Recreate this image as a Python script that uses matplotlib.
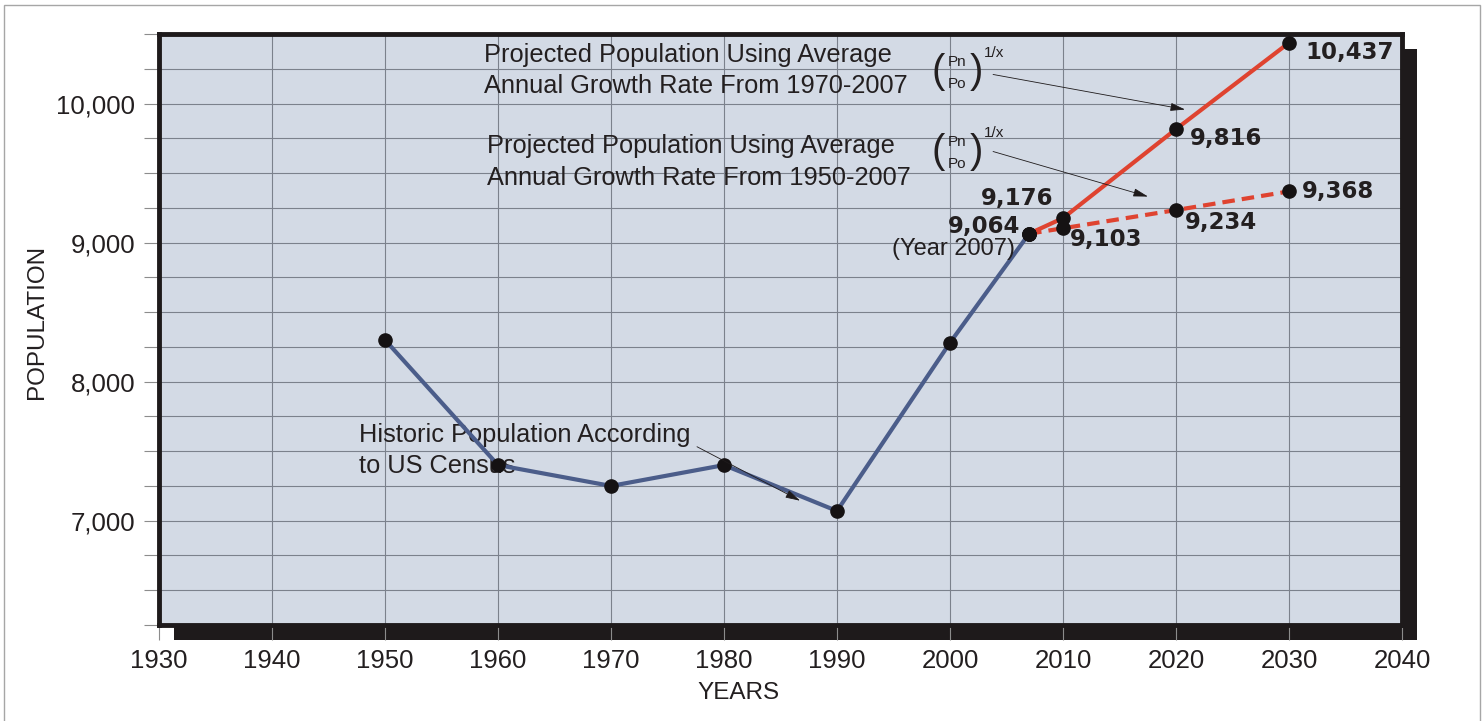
import matplotlib
matplotlib.use("Agg")
import matplotlib.pyplot as plt
import matplotlib.patches as patches
import matplotlib.transforms as mtransforms
from matplotlib.ticker import MultipleLocator, FuncFormatter

plt.rcParams['font.family'] = ['Liberation Sans', 'DejaVu Sans']

# historic census population
hist_years = [1950, 1960, 1970, 1980, 1990, 2000, 2007]
hist_pop = [8300, 7400, 7250, 7400, 7070, 8280, 9064]

# projections from the 2007 base
proj_years = [2007, 2010, 2020, 2030]
proj_7007 = [9064, 9176, 9816, 10437]   # growth rate 1970-2007
proj_5007 = [9064, 9103, 9234, 9368]    # growth rate 1950-2007

x_ticks = [1930, 1940, 1950, 1960, 1970, 1980, 1990, 2000, 2010, 2020, 2030, 2040]
y_ticks = [7000, 8000, 9000, 10000]

TXT = '#231f20'
BLUE = '#4b5d8a'
RED = '#df4330'

fig = plt.figure(figsize=(14.83, 7.21), dpi=100)
ax = fig.add_axes([159 / 1483, 96 / 721, 1243 / 1483, 591 / 721])
ax.set_facecolor('#d3dae5')
ax.set_xlim(1930, 2040)
ax.set_ylim(6250, 10500)

# drop shadow behind the plot box
shift = mtransforms.ScaledTranslation(0.145, -0.145, fig.dpi_scale_trans)
shadow = patches.Rectangle((0, 0), 1, 1, transform=ax.transAxes + shift,
                           facecolor='#1e1a1b', edgecolor='none', zorder=-1)
fig.add_artist(shadow)

# thin grey frame round the whole picture
frame = patches.Rectangle((4 / 1483, -0.05), 1476 / 1483, 0.05 + 716 / 721,
                          transform=fig.transFigure, fill=False,
                          edgecolor='#a6a6a6', lw=1.0, zorder=-2)
fig.add_artist(frame)

for sp in ax.spines.values():
    sp.set_color('#1e1a1b')
    sp.set_linewidth(3.5)

ax.set_xticks(x_ticks)
ax.yaxis.set_minor_locator(MultipleLocator(250))
ax.set_yticks(y_ticks)
ax.yaxis.set_major_formatter(FuncFormatter(lambda v, p: f'{int(v):,}'))
ax.tick_params(axis='both', which='both', direction='out', length=11,
               width=0.8, color='#8c8c8c', labelcolor=TXT, labelsize=18.5)
ax.tick_params(axis='y', pad=6)
ax.tick_params(axis='x', pad=6)
ax.grid(which='both', color='#7b818c', lw=0.8)
ax.set_axisbelow(True)

# lines
ax.plot(hist_years, hist_pop, color=BLUE, lw=3.0, zorder=3, solid_capstyle='round')
ax.plot(proj_years, proj_7007, color=RED, lw=3.0, zorder=3)
ax.plot(proj_years, proj_5007, color=RED, lw=3.0, zorder=3, linestyle=(0, (3, 1.7)))
for xs, ys in [(hist_years, hist_pop), (proj_years, proj_7007), (proj_years, proj_5007)]:
    ax.plot(xs, ys, 'o', color='#151213', markersize=9.5, zorder=4)

# value labels
bold = dict(family='DejaVu Sans', fontweight='bold', fontsize=16.5, color=TXT,
            textcoords='offset points', va='center', zorder=5)
ax.annotate('10,437', (proj_years[3], proj_7007[3]), xytext=(11.5, -7), ha='left', **bold)
ax.annotate('9,816', (proj_years[2], proj_7007[2]), xytext=(10, -7), ha='left', **bold)
ax.annotate('9,176', (proj_years[1], proj_7007[1]), xytext=(-7, 14), ha='right', **bold)
ax.annotate('9,368', (proj_years[3], proj_5007[3]), xytext=(9, 0), ha='left', **bold)
ax.annotate('9,234', (proj_years[2], proj_5007[2]), xytext=(6.5, -9), ha='left', **bold)
ax.annotate('9,103', (proj_years[1], proj_5007[1]), xytext=(5, -8), ha='left', **bold)
ax.annotate('9,064', (proj_years[0], proj_5007[0]), xytext=(-6.5, 5), ha='right', **bold)
ax.annotate('(Year 2007)', (proj_years[0], proj_5007[0]), xytext=(-10, -11),
            textcoords='offset points', ha='right', va='center', fontsize=17, color=TXT, zorder=5)

# explanatory notes (under the lines, as in the original)
note = dict(fontsize=18.3, color=TXT, ha='left', va='center', linespacing=1.38, zorder=2)
ax.text(1958.8, 10235, 'Projected Population Using Average\nAnnual Growth Rate From 1970-2007', **note)
ax.text(1959.0, 9580, 'Projected Population Using Average\nAnnual Growth Rate From 1950-2007', **note)
ax.text(1947.7, 7505, 'Historic Population According\nto US Census', **note)

# growth-rate formula  (Pn/Po)^(1/x)
for yc in [10230, 9655]:
    ax.text(1998.94, yc, '(', fontsize=29, color=TXT, ha='center', va='center')
    ax.text(2002.30, yc, ')', fontsize=29, color=TXT, ha='center', va='center')
    ax.text(2000.62, yc + 68, 'Pn', fontsize=11, color=TXT, ha='center', va='center')
    ax.text(2000.62, yc - 92, 'Po', fontsize=11, color=TXT, ha='center', va='center')
    ax.text(2003.9, yc + 130, '1/x', fontsize=11, color=TXT, ha='center', va='center')

arrow = dict(arrowstyle='-|>,head_length=0.9,head_width=0.25', color='#1e1a1b', lw=0.6,
             shrinkA=0, shrinkB=0)
ax.annotate('', xy=(2020.8, 9957), xytext=(2003.81, 10209), arrowprops=arrow, zorder=5)
ax.annotate('', xy=(2017.52, 9331), xytext=(2003.81, 9655), arrowprops=arrow, zorder=5)
ax.annotate('', xy=(1986.73, 7144), xytext=(1977.61, 7532), arrowprops=arrow, zorder=5)

ax.text(-0.098, 0.513, 'POPULATION', transform=ax.transAxes, rotation=90,
        ha='center', va='center', fontsize=17.5, color=TXT)
ax.text(0.466, -0.115, 'YEARS', transform=ax.transAxes,
        ha='center', va='center', fontsize=17.5, color=TXT)

fig.savefig('out.png', dpi=100)
